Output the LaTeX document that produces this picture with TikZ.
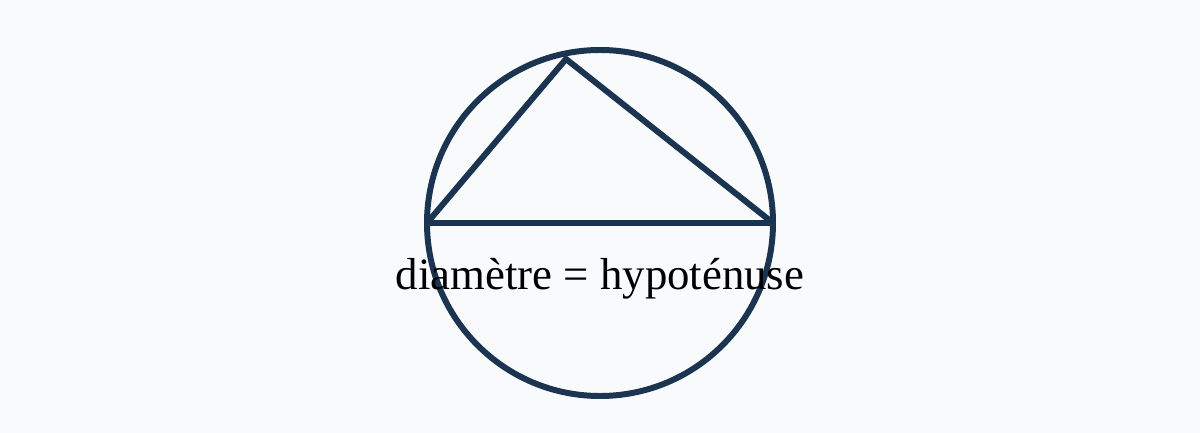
\documentclass[tikz,border=0pt]{standalone}
\usepackage{fontspec}
\setmainfont{Liberation Serif}
\usetikzlibrary{positioning}
\definecolor{navy}{HTML}{1B3450}
\definecolor{paper}{HTML}{F8FAFC}

\begin{document}
\begin{tikzpicture}[
		shape line/.style={draw=navy, line width=1.7pt, line join=miter, miter limit=1.5},
		label text/.style={font=\fontsize{12.75}{15}\selectfont, text=black, inner sep=0pt},
	]
	% Background
	\fill[paper] (0,0) rectangle (12,4.33);
	\useasboundingbox (0,0) rectangle (12,4.33);

	% Circle
	\coordinate (O) at (6.00,2.10);
	\draw[shape line] (O) circle (1.73);

	% Triangle corners
	\coordinate (A) at (4.27,2.10);
	\coordinate (B) at (7.73,2.10);
	\coordinate (C) at (5.66,3.74);

	% Triangle
	\draw[shape line] (A) -- (C) -- (B) -- cycle;

	% Label
	\node[label text, anchor=base] (L) at (6.00,1.43) {diamètre = hypoténuse};
\end{tikzpicture}
\end{document}
